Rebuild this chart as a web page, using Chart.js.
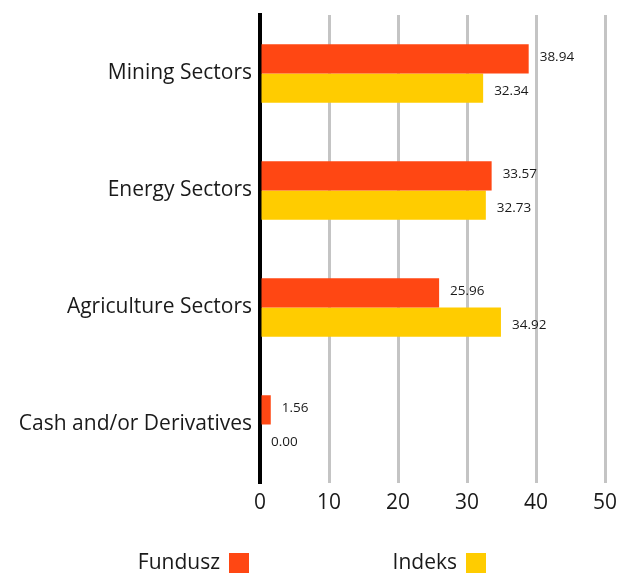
<!DOCTYPE html>
<html>
<head>
<meta charset="utf-8">
<script src="https://cdn.jsdelivr.net/npm/chart.js@4.4.1/dist/chart.umd.min.js"></script>
<style>
  html, body { margin: 0; padding: 0; background: #fff; }
  #wrap { width: 617px; height: 577px; }
</style>
</head>
<body>
<div id="wrap"><canvas id="chart" width="617" height="577"></canvas></div>
<script>
// Dane wykresu
const categories = ['Mining Sectors', 'Energy Sectors', 'Agriculture Sectors', 'Cash and/or Derivatives'];
const fundValues = [38.94, 33.57, 25.96, 1.56];
const indexValues = [32.34, 32.73, 34.92, 0.00];
const seriesNames = ['Fundusz', 'Indeks'];
const xTicks = [0, 10, 20, 30, 40, 50];

const FONT = '"Open Sans", "Noto Sans", sans-serif';
const TEXT = '#1a1a1a';

// Etykiety wartości obok słupków
const valueLabels = {
    id: 'valueLabels',
    afterDatasetsDraw(chart) {
        const ctx = chart.ctx;
        ctx.save();
        ctx.font = '13.5px ' + FONT;
        ctx.fillStyle = TEXT;
        ctx.textAlign = 'left';
        ctx.textBaseline = 'middle';
        chart.data.datasets.forEach((ds, i) => {
            chart.getDatasetMeta(i).data.forEach((bar, j) => {
                const dy = i === 0 ? -2 : 3;
                ctx.fillText(ds.data[j].toFixed(2), bar.x + 11, bar.y + dy);
            });
        });
        ctx.restore();
    }
};

// Legenda: tekst, potem kwadrat
const bottomLegend = {
    id: 'bottomLegend',
    afterDraw(chart) {
        const ctx = chart.ctx;
        ctx.save();
        ctx.font = '21px ' + FONT;
        ctx.textBaseline = 'middle';
        ctx.textAlign = 'right';
        const items = [
            { text: seriesNames[0], box: 229, color: chart.data.datasets[0].backgroundColor },
            { text: seriesNames[1], box: 466, color: chart.data.datasets[1].backgroundColor }
        ];
        items.forEach(it => {
            ctx.fillStyle = TEXT;
            ctx.fillText(it.text, it.box - 9, 563);
            ctx.fillStyle = it.color;
            ctx.fillRect(it.box, 553, 20, 20);
        });
        ctx.restore();
    }
};

new Chart(document.getElementById('chart'), {
    type: 'bar',
    data: {
        labels: categories,
        datasets: [
            { label: seriesNames[0], data: fundValues, backgroundColor: '#ff4713' },
            { label: seriesNames[1], data: indexValues, backgroundColor: '#ffcc00' }
        ]
    },
    options: {
        indexAxis: 'y',
        responsive: false,
        animation: false,
        devicePixelRatio: 1,
        datasets: { bar: { categoryPercentage: 0.5, barPercentage: 1.0 } },
        layout: { padding: { top: 15, right: 12, bottom: 54, left: 0 } },
        plugins: {
            legend: { display: false },
            tooltip: { enabled: false }
        },
        scales: {
            x: {
                min: 0,
                max: 50,
                afterBuildTicks: axis => { axis.ticks = xTicks.map(v => ({ value: v })); },
                grid: { color: '#c4c4c4', lineWidth: 3, drawTicks: false },
                border: { display: false },
                ticks: { color: TEXT, font: { family: FONT, size: 21 }, padding: 7 },
                afterFit: axis => {
                    axis.height = 40;
                    axis.paddingLeft = 0;
                    axis.paddingRight = 0;
                }
            },
            y: {
                grid: { display: false, drawTicks: false },
                border: { color: '#000', width: 4 },
                ticks: { color: TEXT, font: { family: FONT, size: 21 }, padding: 8 },
                afterFit: axis => {
                    axis.width = 260;
                    axis.paddingTop = 0;
                    axis.paddingBottom = 0;
                }
            }
        }
    },
    plugins: [valueLabels, bottomLegend]
});
</script>
</body>
</html>
